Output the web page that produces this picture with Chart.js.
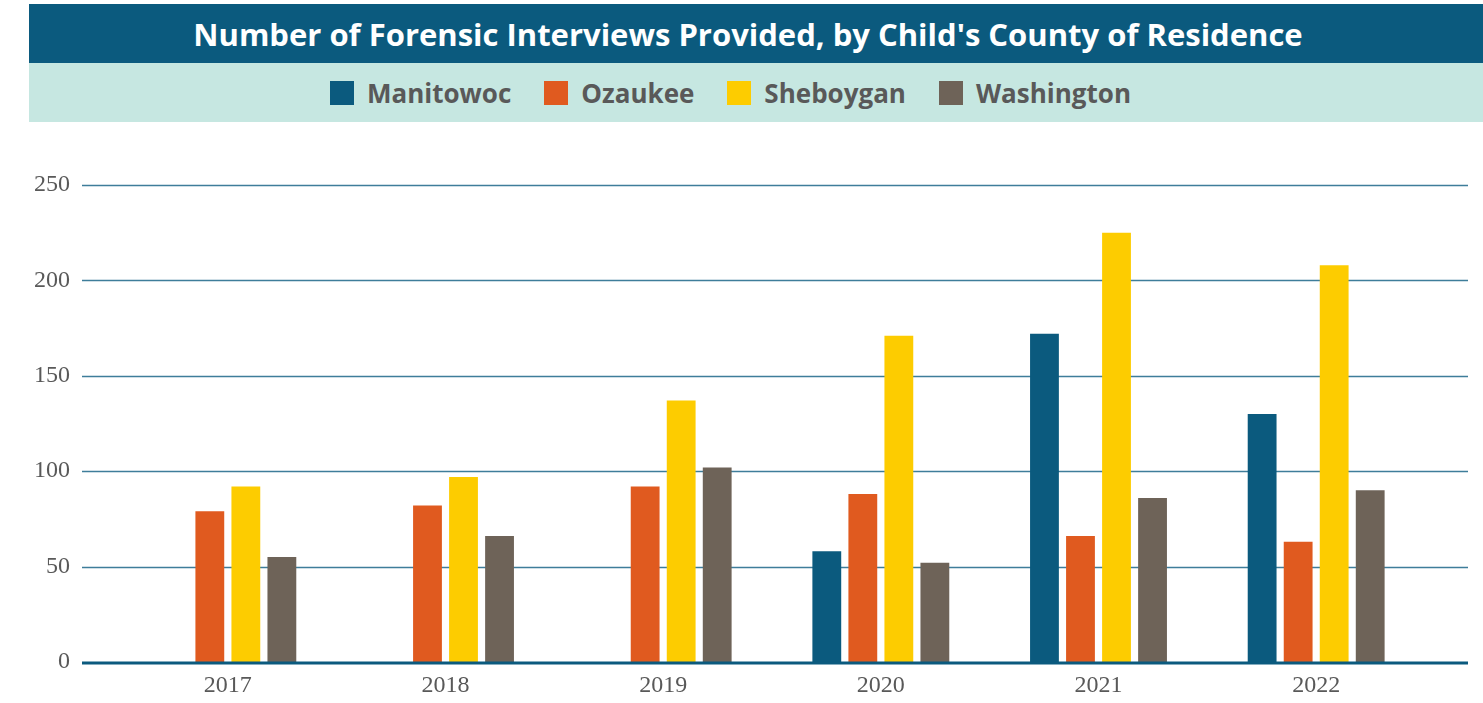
<!DOCTYPE html>
<html>
<head>
<meta charset="utf-8">
<script src="https://cdn.jsdelivr.net/npm/chart.js@4.4.1/dist/chart.umd.min.js"></script>
<style>
body { margin: 0; background: #fff; width: 1483px; height: 703px; overflow: hidden; position: relative; font-family: 'Open Sans', sans-serif; }
#titulo { position: absolute; left: 29px; top: 4px; width: 1454px; height: 59px; background: #0b5a7e; color: #fff;
  font-weight: 700; font-size: 31px; display: flex; align-items: center; justify-content: center; padding-right: 16px; box-sizing: border-box; }
#legenda { position: absolute; left: 29px; top: 63px; width: 1454px; height: 59px; background: #c6e7e1;
  display: flex; align-items: center; justify-content: center; gap: 33px; padding-right: 51px; box-sizing: border-box; }
.item { display: flex; align-items: center; font-weight: 700; font-size: 26px; color: #595959; }
.item span { display: inline-block; width: 24px; height: 24px; margin-right: 13px; }
#grafico { position: absolute; left: 0; top: 122px; }
</style>
</head>
<body>
<div id="titulo">Number of Forensic Interviews Provided, by Child's County of Residence</div>
<div id="legenda"></div>
<canvas id="grafico" width="1483" height="581"></canvas>
<script>
// dados
const anos = ['2017', '2018', '2019', '2020', '2021', '2022'];
const condados = ['Manitowoc', 'Ozaukee', 'Sheboygan', 'Washington'];
const manitowoc = [null, null, null, 58, 172, 130];
const ozaukee = [79, 82, 92, 88, 66, 63];
const sheboygan = [92, 97, 137, 171, 225, 208];
const washington = [55, 66, 102, 52, 86, 90];
const eixoY = [0, 50, 100, 150, 200, 250];

const cores = ['#0b5a7e', '#e05a1f', '#fdcc00', '#6e6358'];
const series = [manitowoc, ozaukee, sheboygan, washington];

// legenda em html, na faixa verde
document.getElementById('legenda').innerHTML = condados.map((c, i) =>
  `<div class="item"><span style="background:${cores[i]}"></span>${c}</div>`).join('');

// linhas de grade que passam um pouco além da área do gráfico
const gradeExtendida = {
  id: 'gradeExtendida',
  beforeDatasetsDraw(chart) {
    const { ctx, chartArea, scales: { y } } = chart;
    ctx.save();
    ctx.lineWidth = 1.5;
    ctx.strokeStyle = '#3e7d9a';
    y.ticks.forEach(t => {
      if (t.value === 0) return;
      const py = Math.round(y.getPixelForValue(t.value)) + 0.5;
      ctx.beginPath();
      ctx.moveTo(chartArea.left - 37, py);
      ctx.lineTo(chartArea.right + 43, py);
      ctx.stroke();
    });
    ctx.restore();
  },
  afterDatasetsDraw(chart) {
    const { ctx, chartArea, scales: { y } } = chart;
    const py = y.getPixelForValue(0) + 1;
    ctx.save();
    ctx.lineWidth = 3;
    ctx.strokeStyle = '#0b5a7e';
    ctx.beginPath();
    ctx.moveTo(chartArea.left - 37, py);
    ctx.lineTo(chartArea.right + 43, py);
    ctx.stroke();
    ctx.restore();
  }
};

const fonteEixo = { family: "'Liberation Serif', serif", size: 24 };

new Chart(document.getElementById('grafico'), {
  type: 'bar',
  data: {
    labels: anos,
    datasets: condados.map((c, i) => ({
      label: c,
      data: series[i],
      backgroundColor: cores[i],
      barPercentage: 0.8,
      categoryPercentage: 0.662
    }))
  },
  options: {
    responsive: false,
    animation: false,
    layout: { padding: { top: 63, right: 58, left: 0, bottom: 0 } },
    plugins: { legend: { display: false }, tooltip: { enabled: false } },
    scales: {
      x: {
        grid: { display: false, drawTicks: false },
        border: { display: false },
        ticks: { font: fonteEixo, color: '#595959', padding: 9, maxRotation: 0 },
        afterFit(s) { s.height = 41; }
      },
      y: {
        min: 0, max: 250,
        grid: { display: false, drawTicks: false },
        border: { display: false },
        afterBuildTicks(s) { s.ticks = eixoY.map(v => ({ value: v })); },
        ticks: { font: fonteEixo, color: '#595959', padding: 49 },
        // o padding dos rótulos não deve empurrar o topo/base da área
        afterFit(s) { s.width = 119; s.paddingTop = 0; s.paddingBottom = 0; }
      }
    }
  },
  plugins: [gradeExtendida]
});
</script>
</body>
</html>
